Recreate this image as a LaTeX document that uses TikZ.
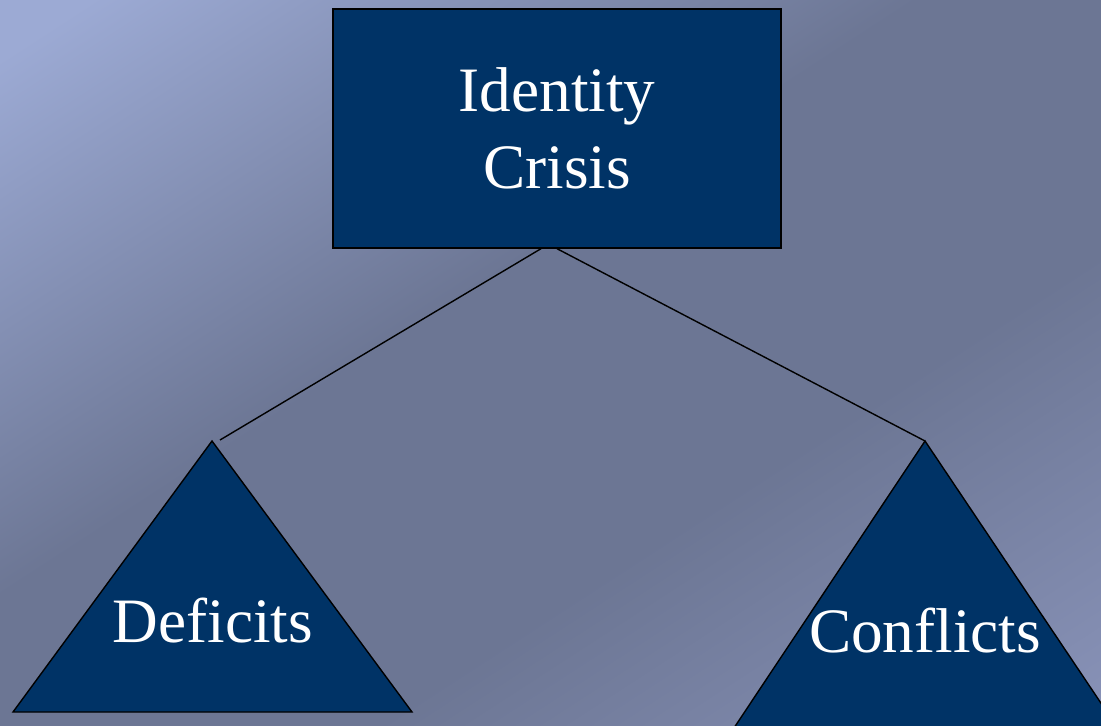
\documentclass[tikz,border=0pt]{standalone}
\usepackage{fontspec}
\setmainfont{Liberation Serif}

\definecolor{navy}{RGB}{0,51,102}
\definecolor{bgA}{RGB}{156,170,212}
\definecolor{bgB}{RGB}{108,118,148}
\definecolor{bgC}{RGB}{138,148,186}

\pgfdeclarehorizontalshading{bgshade}{100bp}{color(0bp)=(bgA); color(18bp)=(bgA); color(44bp)=(bgB); color(62bp)=(bgB); color(86bp)=(bgC); color(100bp)=(bgC)}

\tikzset{
  bigtext/.style={text=white, font=\fontsize{36}{44}\selectfont},
  topbox/.style={draw=black, thick, fill=navy, minimum width=8.96cm, minimum height=4.78cm, align=center, inner sep=0pt},
  tri/.style={draw=black, thick, fill=navy},
  link/.style={draw=black, thick}
}

\begin{document}
\begin{tikzpicture}[x=0.02cm, y=-0.02cm]

  % Fix the frame and paint the background
  \useasboundingbox (0,0) rectangle (1101,726);
  \clip (0,0) rectangle (1101,726);
  \shade[shading=bgshade, shading angle=-57] (0,0) rectangle (1101,726);

  % Define the corners of the two triangles
  \coordinate (DT) at (212,441);
  \coordinate (DL) at (13,712);
  \coordinate (DR) at (412,712);
  \coordinate (CT) at (925,441);
  \coordinate (CL) at (686,800);
  \coordinate (CR) at (1166,800);

  % Draw the triangles
  \draw[tri] (DT) -- (DL) -- (DR) -- cycle;
  \draw[tri] (CT) -- (CL) -- (CR) -- cycle;

  % Draw the box at the top
  \node[topbox, bigtext] (crisis) at (557,128.5) {Identity\\Crisis};

  % Add labels for the triangles
  \node[bigtext, anchor=base] (deficits) at (213,642) {Deficits};
  \node[bigtext, anchor=base] (conflicts) at (925,652) {Conflicts};

  % Draw the links from the box down to the triangles
  \coordinate (dtop) at (220,440);
  \draw[link] ([xshift=-0.32cm]crisis.south) -- (dtop);
  \draw[link] (crisis.south) -- (CT);

\end{tikzpicture}
\end{document}
